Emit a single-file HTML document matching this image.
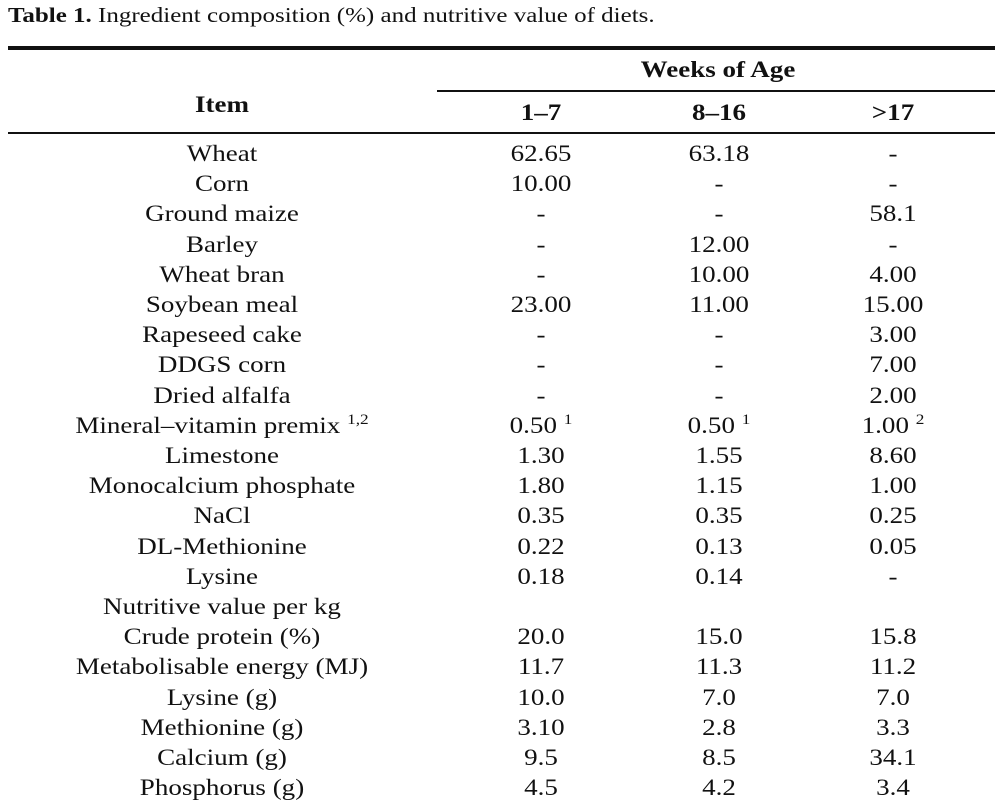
<!DOCTYPE html>
<html><head><meta charset="utf-8">
<style>
html,body{margin:0;padding:0;background:#fff;}
body{width:995px;height:806px;position:relative;overflow:hidden;font-family:"Liberation Serif",serif;color:#111;}
.t{position:absolute;white-space:nowrap;transform:translateX(-50%) scaleX(1.15);font-size:23.5px;line-height:28px;}
.h{font-weight:bold;}
.rule{position:absolute;background:#111;}
sup{font-size:15px;vertical-align:0;position:relative;top:-9px;}
#title{position:absolute;left:8px;top:2px;font-size:21px;line-height:26px;white-space:nowrap;transform:scaleX(1.19);transform-origin:left center;}
</style></head>
<body>
<div id="title"><b>Table 1.</b> Ingredient composition (%) and nutritive value of diets.</div>
<div class="rule" style="left:8px;top:46px;width:987px;height:4px;"></div>
<div class="rule" style="left:437px;top:90px;width:558px;height:1.5px;"></div>
<div class="rule" style="left:8px;top:132px;width:987px;height:1.5px;"></div>
<div class="t h" style="left:222px;top:91px;">Item</div>
<div class="t h" style="left:718px;top:56px;">Weeks of Age</div>
<div class="t h" style="left:541px;top:99px;">1–7</div>
<div class="t h" style="left:719px;top:99px;">8–16</div>
<div class="t h" style="left:893px;top:99px;">&gt;17</div>
<div id="rows"></div>
<script>
const items=["Wheat","Corn","Ground maize","Barley","Wheat bran","Soybean meal","Rapeseed cake","DDGS corn","Dried alfalfa","Mineral–vitamin premix <sup>1,2</sup>","Limestone","Monocalcium phosphate","NaCl","DL-Methionine","Lysine","Nutritive value per kg","Crude protein (%)","Metabolisable energy (MJ)","Lysine (g)","Methionine (g)","Calcium (g)","Phosphorus (g)"];
const col1=["62.65","10.00","-","-","-","23.00","-","-","-","0.50 <sup>1</sup>","1.30","1.80","0.35","0.22","0.18","","20.0","11.7","10.0","3.10","9.5","4.5"];
const col2=["63.18","-","-","12.00","10.00","11.00","-","-","-","0.50 <sup>1</sup>","1.55","1.15","0.35","0.13","0.14","","15.0","11.3","7.0","2.8","8.5","4.2"];
const col3=["-","-","58.1","-","4.00","15.00","3.00","7.00","2.00","1.00 <sup>2</sup>","8.60","1.00","0.25","0.05","-","","15.8","11.2","7.0","3.3","34.1","3.4"];
const root=document.getElementById('rows');
const xs=[222,541,719,893];
const cols=[items,col1,col2,col3];
const names=['item','col-1-7','col-8-16','col-17'];
for(let i=0;i<items.length;i++){
  const y=154+i*30.2-14;
  for(let c=0;c<4;c++){
    const d=document.createElement('div');
    d.className='t';
    d.style.left=xs[c]+'px';
    d.style.top=y+'px';
    d.innerHTML=cols[c][i];
    
    
    root.appendChild(d);
  }
}
</script>
</body></html>
